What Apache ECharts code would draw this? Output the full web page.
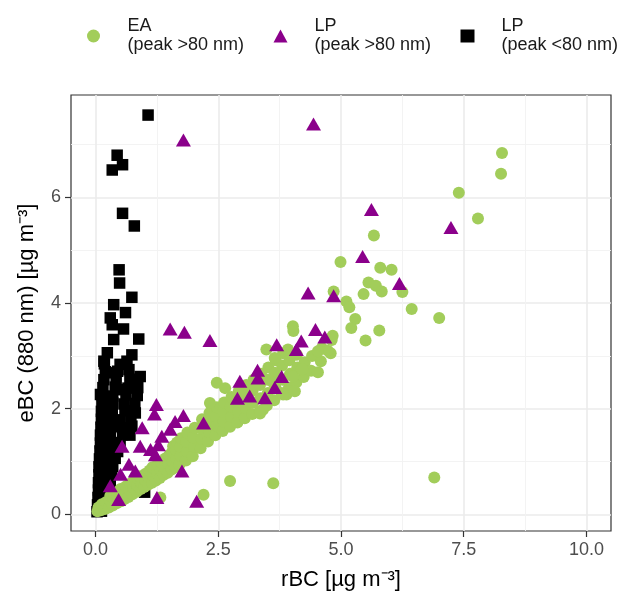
<!DOCTYPE html>
<html>
<head>
<meta charset="utf-8">
<script src="https://cdn.jsdelivr.net/npm/echarts@6/dist/echarts.min.js"></script>
<style>
  html, body { margin: 0; padding: 0; background: #ffffff; }
  #chart { width: 627px; height: 596px; }
</style>
</head>
<body>
<div id="chart"></div>
<script>
// Axis ticks and gridlines
const xTicks = [0, 2.5, 5, 7.5, 10];
const xMinor = [1.25, 3.75, 6.25, 8.75];
const yTicks = [0, 2, 4, 6];
const yMinor = [1, 3, 5, 7];

// Series labels
const nameEA = 'EA\n(peak >80 nm)';
const nameLPlarge = 'LP\n(peak >80 nm)';
const nameLPsmall = 'LP\n(peak <80 nm)';

// EA, peak > 80 nm : [rBC, eBC]
const eaPeakAbove80 = [
  [0.04,0.06],[0.06,0.13],[0.11,0.08],[0.13,0.19],[0.19,0.10],[0.21,0.23],
  [0.27,0.13],[0.29,0.27],[0.30,0.35],[0.35,0.17],[0.37,0.30],[0.38,0.39],
  [0.43,0.21],[0.45,0.34],[0.46,0.43],[0.52,0.25],[0.53,0.37],[0.51,0.48],
  [0.59,0.29],[0.61,0.42],[0.62,0.53],[0.67,0.33],[0.69,0.46],[0.70,0.58],
  [0.75,0.38],[0.77,0.51],[0.78,0.63],[0.84,0.43],[0.85,0.55],[0.86,0.68],
  [0.92,0.48],[0.93,0.61],[0.91,0.72],[0.99,0.52],[1.01,0.65],[1.02,0.77],
  [1.07,0.56],[1.09,0.70],[1.10,0.83],[1.15,0.60],[1.17,0.74],[1.16,0.89],
  [1.23,0.64],[1.25,0.79],[1.26,0.94],[1.31,0.69],[1.33,0.84],[1.34,0.99],
  [1.39,0.75],[1.41,0.90],[1.42,1.06],[1.47,0.79],[1.49,0.95],[1.50,1.12],
  [1.55,0.85],[1.57,1.00],[1.56,1.18],[1.58,1.29],[1.63,0.89],[1.65,1.06],
  [1.64,1.22],[1.66,1.36],[1.71,0.95],[1.73,1.11],[1.72,1.28],[1.74,1.44],
  [1.84,1.02],[1.86,1.20],[1.85,1.38],[1.87,1.55],[1.98,1.10],[2.01,1.28],
  [1.99,1.46],[2.02,1.64],[2.14,1.25],[2.16,1.43],[2.15,1.62],[2.17,1.80],
  [2.29,1.38],[2.31,1.56],[2.30,1.74],[2.32,1.92],[2.44,1.50],[2.46,1.68],
  [2.45,1.86],[2.47,2.03],[2.59,1.58],[2.61,1.76],[2.60,1.94],[2.62,2.12],
  [2.74,1.66],[2.76,1.85],[2.75,2.04],[2.77,2.22],[2.89,1.74],[2.91,1.94],
  [2.90,2.14],[2.92,2.34],[3.04,1.82],[3.06,2.02],[3.05,2.24],[3.07,2.45],
  [3.19,1.90],[3.21,2.12],[3.20,2.34],[3.22,2.55],[3.34,1.95],[3.36,2.20],
  [3.35,2.45],[3.37,2.66],[3.49,2.06],[3.51,2.30],[3.50,2.55],[3.52,2.78],
  [3.64,2.16],[3.66,2.42],[3.65,2.68],[3.67,2.92],[3.79,2.30],[3.81,2.55],
  [3.80,2.82],[3.82,3.05],[3.94,2.40],[3.96,2.66],[3.95,2.92],[4.09,2.50],
  [4.11,2.78],[4.10,3.02],[4.24,2.60],[4.26,2.88],[4.39,2.72],[4.41,3.00],
  [4.59,2.90],[4.61,3.15],[4.79,3.05],[4.81,3.30],
  [2.47,2.49],[2.64,2.39],[2.33,2.11],[3.89,2.27],
  [3.48,3.12],[3.65,2.96],[3.92,3.12],[4.19,2.74],[4.02,2.61],[4.06,2.33],
  [3.82,2.27],[3.62,2.49],[3.48,2.24],[3.41,1.98],[3.35,1.91],
  [4.02,3.56],[4.03,3.47],[4.83,3.38],[4.73,3.10],[4.53,3.09],[4.53,2.69],
  [4.21,2.75],[4.85,4.22],[4.99,4.78],[5.11,4.03],[5.17,3.92],[5.29,3.70],
  [5.21,3.53],[5.50,3.29],[5.46,4.17],[5.56,4.39],[5.71,4.33],[5.83,4.22],
  [5.78,3.48],[5.67,5.28],[5.80,4.67],[6.03,4.63],[6.25,4.21],[6.44,3.89],
  [7.00,3.72],[7.40,6.09],[7.79,5.60],[8.26,6.45],[8.28,6.84],[6.90,0.70],
  [3.62,0.59],[2.74,0.63],[2.20,0.37],[1.32,0.32]
];

// LP, peak > 80 nm : [rBC, eBC]
const lpPeakAbove80 = [
  [1.79,7.09],[4.44,7.39],[5.62,5.77],[7.24,5.43],[6.19,4.37],[5.44,4.88],
  [4.33,4.19],[4.85,4.14],[4.48,3.50],[4.67,3.36],[4.19,3.28],[4.09,3.12],
  [3.69,3.21],[3.79,2.61],[3.30,2.73],[3.31,2.58],[3.65,2.40],[2.94,2.52],
  [2.89,2.20],[3.14,2.24],[3.45,2.21],[1.52,3.51],[1.81,3.45],[2.33,3.29],
  [1.24,2.08],[1.20,1.90],[1.62,1.76],[1.79,1.87],[2.20,1.73],[1.52,1.61],
  [1.35,1.48],[1.12,1.23],[0.95,1.64],[0.91,1.29],[1.28,1.32],[0.54,1.29],
  [0.68,0.95],[0.81,0.82],[0.51,0.76],[1.22,1.13],[1.76,0.82],[1.25,0.32],
  [2.06,0.25],[0.47,0.28],[0.30,0.54]
];

// LP, peak < 80 nm : [rBC, eBC]
const lpPeakBelow80 = [
  [1.07,7.56],[0.44,6.80],[0.55,6.62],[0.34,6.52],[0.55,5.70],[0.79,5.46],
  [0.48,4.63],[0.49,4.38],[0.74,4.11],[0.37,3.97],[0.61,3.82],[0.30,3.72],
  [0.34,3.59],[0.57,3.51],[0.88,3.32],[0.37,3.31],[0.24,3.06],[0.74,3.02],
  [0.17,2.90],[0.64,2.90],[0.91,2.61],[0.27,2.68],[0.68,2.74],[0.10,2.27],
  [0.57,2.36],[0.81,1.92],[0.74,1.67],
  [0.03,0.05],[0.12,0.06],[0.04,0.18],[0.14,0.19],[0.05,0.32],[0.16,0.31],
  [0.24,0.33],[0.06,0.46],[0.18,0.45],[0.27,0.47],[0.06,0.60],[0.17,0.61],
  [0.30,0.59],[0.07,0.75],[0.20,0.74],[0.33,0.76],[0.07,0.90],[0.21,0.89],
  [0.35,0.91],[0.08,1.05],[0.22,1.04],[0.40,1.06],[0.09,1.20],[0.25,1.21],
  [0.45,1.19],[0.10,1.35],[0.28,1.34],[0.50,1.36],[0.10,1.50],[0.30,1.49],
  [0.55,1.51],[0.70,1.50],[0.11,1.65],[0.32,1.66],[0.55,1.64],[0.12,1.80],
  [0.30,1.81],[0.50,1.79],[0.72,1.80],[0.12,1.95],[0.34,1.94],[0.60,1.96],
  [0.13,2.10],[0.35,2.11],[0.58,2.09],[0.80,2.10],[0.14,2.25],[0.35,2.24],
  [0.62,2.26],[0.85,2.25],[0.15,2.40],[0.40,2.41],[0.66,2.39],[0.86,2.40],
  [0.17,2.55],[0.42,2.54],[0.70,2.56],[0.20,2.70],[0.45,2.71],[0.18,2.85],
  [0.50,2.84],[1.00,0.42]
];

const fontFamily = '"Liberation Sans", Arial, Helvetica, sans-serif';

const chart = echarts.init(document.getElementById('chart'), null, { renderer: 'canvas' });

chart.setOption({
  animation: false,
  backgroundColor: '#ffffff',
  textStyle: { fontFamily: fontFamily },
  legend: {
    top: 17,
    left: 87,
    padding: 0,
    itemWidth: 14,
    itemHeight: 13,
    itemGap: 28,
    data: [
      { name: nameEA, icon: 'circle' },
      { name: nameLPlarge, icon: 'triangle' },
      { name: nameLPsmall, icon: 'rect' }
    ],
    textStyle: {
      fontFamily: fontFamily,
      fontSize: 18,
      lineHeight: 19,
      color: '#1a1a1a',
      width: 118,
      padding: [0, 0, 0, 22]
    }
  },
  grid: {
    left: 71, right: 16, top: 95, bottom: 65,
    show: true,
    borderColor: '#333333',
    borderWidth: 1.2,
    backgroundColor: 'transparent'
  },
  xAxis: [
    {
      type: 'value', min: -0.5, max: 10.5,
      name: 'rBC [µg m⁻³]',
      nameLocation: 'middle',
      nameGap: 38,
      nameTextStyle: { fontFamily: fontFamily, fontSize: 22, color: '#000000' },
      axisLine: { show: false, onZero: false },
      axisTick: { show: true, customValues: xTicks, length: 6, lineStyle: { color: '#333333', width: 1.2 } },
      axisLabel: { customValues: xTicks, formatter: v => v.toFixed(1), color: '#4D4D4D', fontSize: 18, margin: 10, fontFamily: fontFamily },
      splitLine: { show: true, lineStyle: { color: '#EBEBEB', width: 1.6 } }
    },
    {
      type: 'value', min: -0.5, max: 10.5, position: 'bottom',
      axisLine: { show: false, onZero: false },
      axisTick: { show: false, customValues: xMinor },
      axisLabel: { show: false },
      splitLine: { show: true, lineStyle: { color: '#F2F2F2', width: 0.9 } }
    }
  ],
  yAxis: [
    {
      type: 'value', min: -0.315, max: 7.94,
      name: 'eBC (880 nm) [µg m⁻³]',
      nameLocation: 'middle',
      nameGap: 33,
      nameTextStyle: { fontFamily: fontFamily, fontSize: 22, color: '#000000' },
      axisLine: { show: false, onZero: false },
      axisTick: { show: true, customValues: yTicks, length: 6, lineStyle: { color: '#333333', width: 1.2 } },
      axisLabel: { customValues: yTicks, color: '#4D4D4D', fontSize: 18, margin: 10, fontFamily: fontFamily },
      splitLine: { show: true, lineStyle: { color: '#EBEBEB', width: 1.6 } }
    },
    {
      type: 'value', min: -0.315, max: 7.94, position: 'left',
      axisLine: { show: false, onZero: false },
      axisTick: { show: false, customValues: yMinor },
      axisLabel: { show: false },
      splitLine: { show: true, lineStyle: { color: '#F2F2F2', width: 0.9 } }
    }
  ],
  series: [
    {
      name: nameLPsmall, type: 'scatter', data: lpPeakBelow80,
      symbol: 'rect', symbolSize: 11.5,
      itemStyle: { color: '#000000', opacity: 1 },
      z: 2
    },
    {
      name: nameEA, type: 'scatter', data: eaPeakAbove80,
      symbol: 'circle', symbolSize: 12,
      itemStyle: { color: '#A2CD5A', opacity: 1 },
      z: 3
    },
    {
      name: nameLPlarge, type: 'scatter', data: lpPeakAbove80,
      symbol: 'triangle', symbolSize: [15, 13],
      itemStyle: { color: '#8B008B', opacity: 1 },
      z: 4
    }
  ]
});
</script>
</body>
</html>
